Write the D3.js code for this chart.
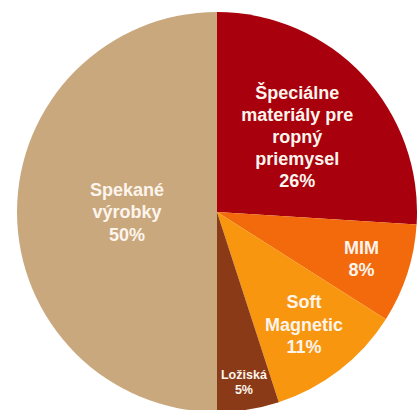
<!DOCTYPE html>
<html>
<head>
<meta charset="UTF-8">
<title>Pie</title>
<style>
    body { margin: 0; padding: 0; background: #fff; }
    text { font-family: "Liberation Sans", Arial, sans-serif; font-weight: bold; fill: #fdf4ec; text-anchor: middle; }
</style>
<script src="https://d3js.org/d3.v7.min.js"></script>
</head>
<body>
<div id="chart"></div>
<script>
    // slices, clockwise from 12 o'clock
    var categories = ["Speciálne materiály pre ropný priemysel", "MIM", "Soft Magnetic", "Ložiská", "Spekané výrobky"];
    var values = [26, 8, 11, 5, 50];
    var labelLines = [
        ["Špeciálne", "materiály pre", "ropný", "priemysel"],
        ["MIM"],
        ["Soft", "Magnetic"],
        ["Ložiská"],
        ["Spekané", "výrobky"]
    ];
    var colors = ["#a8000c", "#f26a0c", "#f8960f", "#8a3a16", "#c9a87e"];

    // where each label sits, as fraction of radius, and its font size
    var labelR = [0.55, 0.76, 0.71, 0.86, 0.45];
    var fontSize = [18, 18, 18, 12.5, 18];
    var lineGap = [22, 22, 22.5, 15, 22.5];

    var width = 417, height = 410,
        cx = 217, cy = 212, radius = 200;

    var svg = d3.select("#chart").append("svg")
        .attr("width", width)
        .attr("height", height)
        .append("g")
        .attr("transform", "translate(" + cx + "," + cy + ")");

    var pie = d3.pie().sort(null).value(function(d) { return d; });
    var arcs = pie(values);

    var arc = d3.arc().innerRadius(0).outerRadius(radius);

    svg.selectAll("path")
        .data(arcs)
        .enter().append("path")
        .attr("d", arc)
        .attr("fill", function(d, i) { return colors[i]; });

    var labels = svg.selectAll("g.label")
        .data(arcs)
        .enter().append("g")
        .attr("class", "label")
        .attr("transform", function(d, i) {
            var r = radius * labelR[i];
            var c = d3.arc().innerRadius(r).outerRadius(r).centroid(d);
            return "translate(" + c[0] + "," + c[1] + ")";
        });

    labels.each(function(d, i) {
        var lines = labelLines[i].concat([values[i] + "%"]);
        var fs = fontSize[i];
        var lh = lineGap[i];
        var g = d3.select(this);
        lines.forEach(function(t, k) {
            g.append("text")
                .attr("y", (k - (lines.length - 1) / 2) * lh)
                .attr("dy", "0.35em")
                .style("font-size", fs + "px")
                .text(t);
        });
    });
</script>
</body>
</html>
